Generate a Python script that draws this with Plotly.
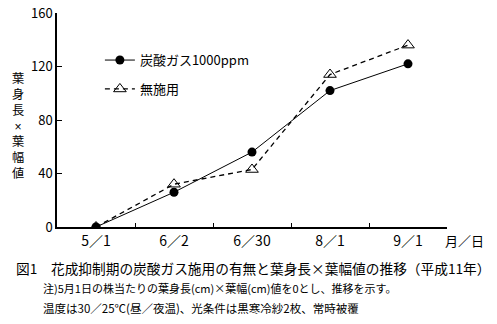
import plotly.graph_objects as go

dates = ["5／1", "6／2", "6／30", "8／1", "9／1"]
co2_values = [0, 26, 56, 102, 122]
none_values = [0, 32, 43, 114, 136]
series_names = ["炭酸ガス1000ppm", "無施用"]
y_ticks = [0, 40, 80, 120, 160]

font_jp = "Noto Sans CJK JP, Liberation Sans, sans-serif"

fig = go.Figure()
fig.add_trace(go.Scatter(
    x=dates, y=co2_values, name=series_names[0], mode="lines+markers",
    line=dict(color="black", width=1),
    marker=dict(symbol="circle", size=9, color="black"),
    legendgroup="a",
))
fig.add_trace(go.Scatter(
    x=dates, y=none_values, name=series_names[1], mode="lines+markers",
    line=dict(color="black", width=1.3, dash="5px,4px"),
    marker=dict(symbol="triangle-up-open", size=11, color="black", line=dict(width=1)),
    legendgroup="b",
))

fig.update_layout(
    width=497, height=324,
    margin=dict(l=57, r=50, t=13, b=97, autoexpand=False),
    paper_bgcolor="white", plot_bgcolor="white",
    font=dict(family=font_jp, size=13, color="black"),
    showlegend=True,
    legend=dict(x=0.11, y=0.85, xanchor="left", yanchor="top",
                bgcolor="rgba(0,0,0,0)", tracegroupgap=9,
                font=dict(size=13), itemwidth=30),
    xaxis=dict(type="category", range=[-0.5, 4.5], showline=True, linecolor="black",
               linewidth=1.5, ticks="inside", tickson="boundaries", ticklen=4,
               tickcolor="black", showgrid=False, zeroline=False, automargin=False,
               tickfont=dict(size=14)),
    yaxis=dict(range=[0, 160], tickvals=y_ticks, showline=True, linecolor="black",
               linewidth=1.5, ticks="inside", ticklen=5, tickcolor="black",
               showgrid=False, zeroline=False, automargin=False,
               tickfont=dict(size=13)),
)

fig.add_annotation(xref="paper", yref="paper", x=-0.1, y=0.47, xanchor="center",
                   yanchor="middle", showarrow=False,
                   text="<br>".join(list("葉身長×葉幅値")),
                   font=dict(size=12.2, family="Liberation Sans, Noto Sans CJK JP, sans-serif"))
fig.add_annotation(xref="paper", yref="paper", x=1.1, y=-0.01, xanchor="right",
                   yanchor="top", showarrow=False, text="月／日",
                   font=dict(size=13, family=font_jp))
fig.add_annotation(xref="paper", yref="paper", x=-0.11, y=-0.135, xanchor="left",
                   yanchor="top", showarrow=False,
                   text="図1　花成抑制期の炭酸ガス施用の有無と葉身長×葉幅値の推移（平成11年）",
                   font=dict(size=13.7, family=font_jp))
fig.add_annotation(xref="paper", yref="paper", x=-0.04, y=-0.24, xanchor="left",
                   yanchor="top", showarrow=False,
                   text="注)5月1日の株当たりの葉身長(cm)×葉幅(cm)値を0とし、推移を示す。",
                   font=dict(size=11, family=font_jp))
fig.add_annotation(xref="paper", yref="paper", x=-0.04, y=-0.33, xanchor="left",
                   yanchor="top", showarrow=False,
                   text="温度は30／25℃(昼／夜温)、光条件は黒寒冷紗2枚、常時被覆",
                   font=dict(size=11.5, family=font_jp))

fig.write_html("out.html")
